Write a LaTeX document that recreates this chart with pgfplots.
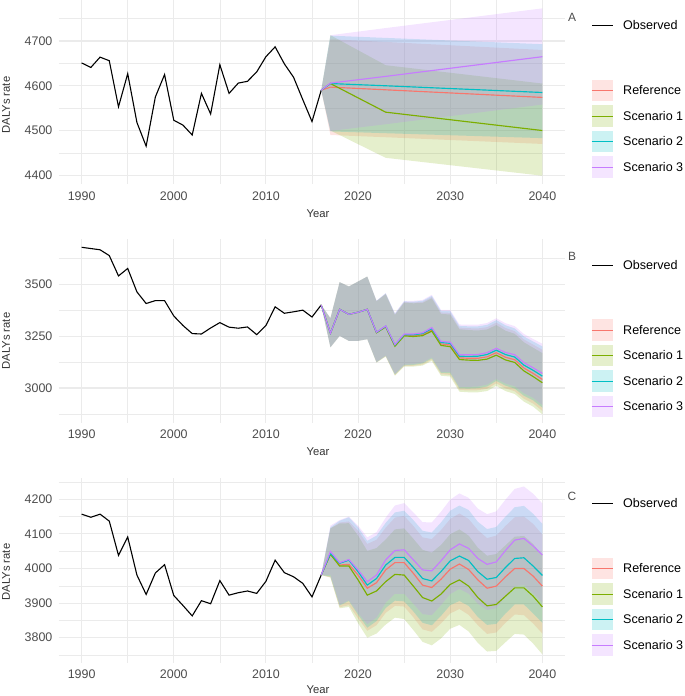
\documentclass[border=0pt]{standalone}
\usepackage{fontspec}
\setmainfont{Liberation Sans}
\usepackage{pgfplots}
\pgfplotsset{compat=1.18}
\usepackage{pgfplotstable}

\definecolor{refc}{HTML}{F8766D}
\definecolor{sa}{HTML}{7CAE00}
\definecolor{sb}{HTML}{00BFC4}
\definecolor{sc}{HTML}{C77CFF}
\definecolor{gridc}{HTML}{EBEBEB}
\definecolor{tickc}{HTML}{4D4D4D}
\definecolor{titc}{HTML}{333333}

% ---------------- Panel A ----------------
\pgfplotstableread{
year val
1990 4651
1991 4641
1992 4664
1993 4656
1994 4553
1995 4627
1996 4518
1997 4465
1998 4575
1999 4625
2000 4523
2001 4512
2002 4490
2003 4583
2004 4537
2005 4647
2006 4583
2007 4606
2008 4610
2009 4631
2010 4665
2011 4687
2012 4649
2013 4619
2014 4569
2015 4520
2016 4590
}\obsA

\pgfplotstableread{
year r a b c
2016 4590 4590 4590 4590
2017 4597 4605 4605 4606
2023 4591 4541 4600 4621
2040 4574 4500 4585 4665
}\meanA

% band outlines: upper bound forward, lower bound backward
\pgfplotstableread{
year r a b c
2016 4590 4590 4590 4590
2017 4704 4713 4712 4713
2023 4698 4646 4707 4729
2040 4680 4605 4693 4773
2040 4470 4399 4483 4558
2023 4485 4439 4494 4514
2017 4490 4500 4498 4499
2016 4590 4590 4590 4590
}\bandA

% ---------------- Panel B ----------------
\pgfplotstableread{
year val
1990 3678
1991 3672
1992 3666
1993 3638
1994 3540
1995 3576
1996 3463
1997 3407
1998 3421
1999 3421
2000 3347
2001 3301
2002 3262
2003 3260
2004 3289
2005 3315
2006 3293
2007 3288
2008 3294
2009 3257
2010 3301
2011 3391
2012 3360
2013 3367
2014 3375
2015 3342
2016 3400
}\obsB

\pgfplotstableread{
year r a b c
2016 3400 3400 3400 3400
2017 3264 3264 3264 3264
2018 3379 3379 3379 3379
2019 3355 3355 3355 3355
2020 3365 3365 3365 3365
2021 3379 3379 3379 3379
2022 3267 3266 3268 3269
2023 3296 3294 3298 3299
2024 3204 3201 3207 3209
2025 3254 3251 3257 3260
2026 3252 3248 3256 3260
2027 3257 3252 3262 3266
2028 3280 3274 3286 3291
2029 3212 3205 3219 3224
2030 3207 3199 3215 3221
2031 3145 3137 3153 3160
2032 3143 3134 3152 3160
2033 3143 3133 3153 3161
2034 3150 3139 3161 3170
2035 3170 3158 3182 3191
2036 3148 3135 3161 3171
2037 3136 3123 3149 3160
2038 3096 3082 3110 3122
2039 3070 3055 3085 3097
2040 3041 3025 3057 3070
}\meanB

\pgfplotstableread{
year r a b c
2016 3400 3400 3400 3400
2017 3336 3336 3336 3336
2018 3510 3510 3510 3510
2019 3489 3489 3489 3489
2020 3513 3513 3513 3513
2021 3537 3537 3537 3537
2022 3419 3418 3420 3421
2023 3454 3452 3456 3457
2024 3355 3352 3358 3360
2025 3414 3411 3417 3420
2026 3412 3408 3416 3420
2027 3415 3410 3420 3424
2028 3438 3432 3444 3449
2029 3364 3357 3371 3376
2030 3362 3354 3370 3376
2031 3291 3283 3299 3306
2032 3288 3279 3297 3305
2033 3287 3277 3297 3305
2034 3293 3282 3304 3313
2035 3315 3303 3327 3336
2036 3289 3276 3302 3312
2037 3274 3261 3287 3298
2038 3234 3220 3248 3260
2039 3209 3194 3224 3236
2040 3184 3168 3200 3213
2040 2889 2873 2905 2918
2039 2925 2910 2940 2952
2038 2948 2934 2962 2974
2037 2984 2971 2997 3008
2036 2998 2985 3011 3021
2035 3022 3010 3034 3043
2034 2996 2985 3007 3016
2033 2989 2979 2999 3007
2032 2988 2979 2997 3005
2031 2990 2982 2998 3005
2030 3063 3055 3071 3077
2029 3066 3059 3073 3078
2028 3136 3130 3142 3147
2027 3113 3108 3118 3122
2026 3107 3103 3111 3115
2025 3106 3103 3109 3112
2024 3062 3059 3065 3067
2023 3153 3151 3155 3156
2022 3123 3122 3124 3125
2021 3235 3235 3235 3235
2020 3227 3227 3227 3227
2019 3227 3227 3227 3227
2018 3251 3251 3251 3251
2017 3196 3196 3196 3196
2016 3400 3400 3400 3400
}\bandB

% ---------------- Panel C ----------------
\pgfplotstableread{
year val
1990 4157
1991 4148
1992 4157
1993 4137
1994 4038
1995 4091
1996 3981
1997 3925
1998 3987
1999 4011
2000 3922
2001 3893
2002 3863
2003 3907
2004 3898
2005 3965
2006 3923
2007 3930
2008 3935
2009 3928
2010 3963
2011 4024
2012 3988
2013 3976
2014 3957
2015 3918
2016 3981
}\obsC

\pgfplotstableread{
year r a b c
2016 3981 3981 3981 3981
2017 4041 4041 4044 4049
2018 4010 4007 4015 4017
2019 4012 4007 4024 4026
2020 3981 3967 3991 3996
2021 3943 3923 3952 3962
2022 3959 3935 3971 3981
2023 3996 3962 4010 4025
2024 4017 3983 4032 4052
2025 4017 3981 4032 4054
2026 3986 3949 4003 4025
2027 3952 3916 3971 3996
2028 3945 3906 3964 3993
2029 3969 3926 3991 4022
2030 3998 3954 4022 4054
2031 4013 3967 4036 4071
2032 3997 3949 4023 4058
2033 3967 3916 3991 4029
2034 3943 3892 3969 4012
2035 3949 3896 3974 4019
2036 3976 3920 4003 4052
2037 4000 3944 4029 4082
2038 4000 3944 4031 4087
2039 3978 3920 4007 4065
2040 3949 3889 3980 4039
}\meanC

\pgfplotstableread{
year r a b c
2016 3981 3981 3981 3981
2017 4116 4116 4119 4124
2018 4133 4130 4138 4140
2019 4136 4131 4148 4150
2020 4109 4095 4119 4124
2021 4071 4051 4080 4090
2022 4083 4059 4095 4105
2023 4118 4084 4132 4147
2024 4147 4113 4162 4182
2025 4152 4116 4167 4189
2026 4123 4086 4140 4162
2027 4090 4054 4109 4134
2028 4085 4046 4104 4133
2029 4111 4068 4133 4164
2030 4143 4099 4167 4199
2031 4159 4113 4182 4217
2032 4143 4095 4169 4204
2033 4111 4060 4135 4173
2034 4088 4037 4114 4157
2035 4095 4042 4120 4165
2036 4123 4067 4150 4199
2037 4148 4092 4177 4230
2038 4150 4094 4181 4237
2039 4129 4071 4158 4216
2040 4098 4038 4129 4188
2040 3812 3752 3843 3902
2039 3841 3783 3870 3928
2038 3865 3809 3896 3952
2037 3867 3811 3896 3949
2036 3843 3787 3870 3919
2035 3815 3762 3840 3885
2034 3811 3760 3837 3880
2033 3836 3785 3860 3898
2032 3866 3818 3892 3927
2031 3883 3837 3906 3941
2030 3870 3826 3894 3926
2029 3841 3798 3863 3894
2028 3817 3778 3836 3865
2027 3824 3788 3843 3868
2026 3859 3822 3876 3898
2025 3890 3854 3905 3927
2024 3892 3858 3907 3927
2023 3872 3838 3886 3901
2022 3836 3812 3848 3858
2021 3820 3800 3829 3839
2020 3856 3842 3866 3871
2019 3894 3889 3906 3908
2018 3888 3885 3893 3895
2017 3974 3974 3977 3982
2016 3981 3981 3981 3981
}\bandC

\pgfplotsset{panel/.style={
  scale only axis, width=506.8bp, xmin=1987.5, xmax=2042.5,
  axis line style={draw=none}, major tick length=0pt, minor tick length=0pt,
  xtick={1990,2000,2010,2020,2030,2040},
  minor xtick={1995,2005,2015,2025,2035},
  grid=both,
  major grid style={gridc, line width=1.1bp},
  minor grid style={gridc, line width=0.55bp},
  tick label style={font=\fontsize{12.5}{15}\selectfont, text=tickc},
  /pgf/number format/1000 sep={},
  /pgf/number format/assume math mode=true,
  xticklabel style={yshift=-4bp},
  yticklabel style={xshift=-2.7bp},
}}

\newcommand{\forecast}[3]{%
  \addplot[fill=refc, fill opacity=0.2, draw=none] table[x=year,y=r]{#2};
  \addplot[fill=sa, fill opacity=0.2, draw=none] table[x=year,y=a]{#2};
  \addplot[fill=sb, fill opacity=0.2, draw=none] table[x=year,y=b]{#2};
  \addplot[fill=sc, fill opacity=0.2, draw=none] table[x=year,y=c]{#2};
  \addplot[black, line width=1.1bp] table[x=year,y=val]{#3};
  \addplot[refc, line width=1.15bp] table[x=year,y=r]{#1};
  \addplot[sa, line width=1.15bp] table[x=year,y=a]{#1};
  \addplot[sb, line width=1.15bp] table[x=year,y=b]{#1};
  \addplot[sc, line width=1.15bp] table[x=year,y=c]{#1};
}
% legend block, #1 = vertical centre (bp), #2 = panel letter, #3 letter y
\newcommand{\legendblock}[3]{%
  \node[text=tickc, font=\fontsize{12}{14}\selectfont] at (572,#3) {#2};
  \draw[black, line width=0.9] (592,#1+67) -- (613,#1+67);
  \node[anchor=west, inner sep=0pt, font=\fontsize{12.6}{15}\selectfont] at (623,#1+67) {Observed};
  \fill[refc, opacity=0.2] (591.7,#1+2-10.8) rectangle (613.3,#1+2+10.8);
  \draw[refc, line width=1] (591.7,#1+2) -- (613.3,#1+2);
  \node[anchor=west, inner sep=0pt, font=\fontsize{12.6}{15}\selectfont] at (623,#1+2) {Reference};
  \fill[sa, opacity=0.2] (591.7,#1-23.5-10.8) rectangle (613.3,#1-23.5+10.8);
  \draw[sa, line width=1] (591.7,#1-23.5) -- (613.3,#1-23.5);
  \node[anchor=west, inner sep=0pt, font=\fontsize{12.6}{15}\selectfont] at (623,#1-23.5) {Scenario 1};
  \fill[sb, opacity=0.2] (591.7,#1-49-10.8) rectangle (613.3,#1-49+10.8);
  \draw[sb, line width=1] (591.7,#1-49) -- (613.3,#1-49);
  \node[anchor=west, inner sep=0pt, font=\fontsize{12.6}{15}\selectfont] at (623,#1-49) {Scenario 2};
  \fill[sc, opacity=0.2] (591.7,#1-74.5-10.8) rectangle (613.3,#1-74.5+10.8);
  \draw[sc, line width=1] (591.7,#1-74.5) -- (613.3,#1-74.5);
  \node[anchor=west, inner sep=0pt, font=\fontsize{12.6}{15}\selectfont] at (623,#1-74.5) {Scenario 3};
}

\begin{document}
\begin{tikzpicture}
\useasboundingbox (0,0) rectangle (685bp,696bp);

% Panel A
\begin{axis}[panel, at={(58.6bp,511.9bp)}, anchor=south west, height=184.1bp,
  ymin=4380.3, ymax=4791.7, ytick={4400,4500,4600,4700}, minor ytick={4450,4550,4650,4750}]
\forecast{\meanA}{\bandA}{\obsA}
\end{axis}

% Panel B
\begin{axis}[panel, at={(58.6bp,273.4bp)}, anchor=south west, height=183.6bp,
  ymin=2833, ymax=3718, ytick={3000,3250,3500}, minor ytick={2875,3125,3375,3625}]
\forecast{\meanB}{\bandB}{\obsB}
\end{axis}

% Panel C
\begin{axis}[panel, at={(58.6bp,33.3bp)}, anchor=south west, height=184.6bp,
  ymin=3727.75, ymax=4261.25, ytick={3800,3900,4000,4100,4200}, minor ytick={3750,3850,3950,4050,4150,4250}]
\forecast{\meanC}{\bandC}{\obsC}
\end{axis}

\begin{scope}[x=1bp,y=1bp]
\node[text=titc, font=\fontsize{11.3}{13}\selectfont] at (318,482.7) {Year};
\node[text=titc, font=\fontsize{11.3}{13}\selectfont] at (318,244.3) {Year};
\node[text=titc, font=\fontsize{11.3}{13}\selectfont] at (318,6) {Year};
\node[text=titc, rotate=90, font=\fontsize{11.3}{13}\selectfont] at (6,591) {DALYs rate};
\node[text=titc, rotate=90, font=\fontsize{11.3}{13}\selectfont] at (6,355) {DALYs rate};
\node[text=titc, rotate=90, font=\fontsize{11.3}{13}\selectfont] at (6,124) {DALYs rate};
\legendblock{603.5}{A}{678.5}
\legendblock{364}{B}{439.3}
\legendblock{125.5}{C}{199.3}
\end{scope}
\end{tikzpicture}
\end{document}
